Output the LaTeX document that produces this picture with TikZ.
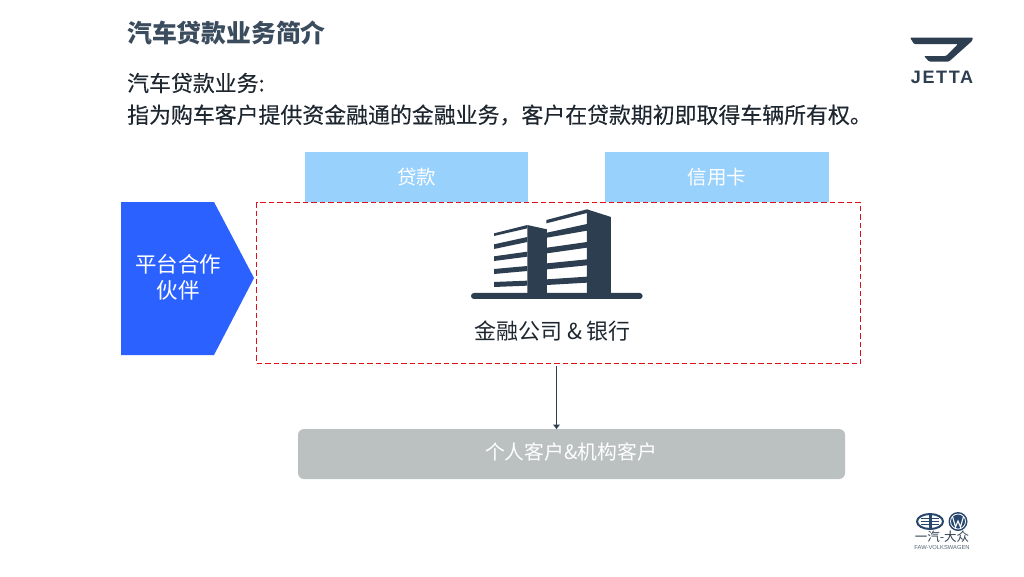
\documentclass[tikz,border=0pt]{standalone}
\usepackage{fontspec}
\usetikzlibrary{shapes.geometric}
\setmainfont{Noto Sans CJK SC}
\newfontfamily\cjkmid[FakeBold=0.25]{Noto Sans CJK SC}
\newfontfamily\latinf{Liberation Sans}
\newfontfamily\jettaf[LetterSpace=9]{Liberation Sans}
\newcommand{\fsz}[1]{\fontsize{#1pt}{#1pt}\selectfont}
\definecolor{ink}{HTML}{2C3E50}
\definecolor{headink}{HTML}{3A4C5E}
\definecolor{tabblue}{HTML}{99D1FD}
\definecolor{royal}{HTML}{2B62FF}
\definecolor{redd}{HTML}{E0101E}
\definecolor{greyb}{HTML}{BBC1C1}
\definecolor{txt}{HTML}{1E2730}
\definecolor{logoblue}{HTML}{27476F}
\tikzset{
  tabbox/.style={fill=tabblue,draw=none,minimum width=224,minimum height=50,text=white,inner sep=0pt,font=\fsz{19.5}},
  lbl/.style={inner sep=0pt,anchor=west},
}
\begin{document}
\begin{tikzpicture}[x=1pt,y=-1pt]
\useasboundingbox (0,0) rectangle (1024,576);
\fill[white] (0,0) rectangle (1024,576);
% text
\node[lbl,text=headink,font={\fsz{24.8}\bfseries}] (title) at (127,33) {汽车贷款业务简介};
\node[lbl,text=txt,font={\fsz{21.9}\cjkmid}] (l1) at (127,83) {汽车贷款业务:};
\node[lbl,text=txt,font={\fsz{21.9}\cjkmid}] (l2) at (127,115) {指为购车客户提供资金融通的金融业务，客户在贷款期初即取得车辆所有权。};
% tabs
\node[tabbox,minimum width=223] (loan) at (416.5,177) {贷款};
\node[tabbox] (card) at (717,177) {信用卡};
% partner
\fill[royal] (121,202) -- (214,202) -- (254,278) -- (214,355) -- (121,355) -- cycle;
\node[text=white,inner sep=0pt,font=\fsz{21.5}] (partner) at (178,264) {平台合作};
\node[text=white,inner sep=0pt,font=\fsz{21.5}] (partner2) at (178,290) {伙伴};
% red box
\node[draw=redd,dash pattern=on 5.5pt off 3pt,line width=1.5pt,minimum width=604,minimum height=161,inner sep=0pt] (main) at (558.5,283) {};
% building
\begin{scope}[shift={(450,200)},x=0.3333pt,y=-0.3333pt]
\fill[ink,rounded corners=3pt] (63,279) rectangle (578,297);
\fill[ink] (411,28) -- (483,51) -- (483,282) -- (411,282) -- cycle;
\fill[ink] (232,75) -- (291,88) -- (291,282) -- (232,282) -- cycle;
\fill[ink] (411,28) -- (411,39) -- (289,70) -- (289,60) -- cycle;
\fill[ink] (411,72) -- (411,92) -- (291,113) -- (291,98) -- cycle;
\fill[ink] (411,126) -- (411,143) -- (291,160) -- (291,143) -- cycle;
\fill[ink] (411,178) -- (411,196) -- (291,208) -- (291,190) -- cycle;
\fill[ink] (411,230) -- (411,248) -- (291,255) -- (291,238) -- cycle;
\fill[ink] (232,75) -- (232,85) -- (132,108) -- (132,100) -- cycle;
\fill[ink] (232,111) -- (232,126) -- (132,147) -- (132,133) -- cycle;
\fill[ink] (232,155) -- (232,170) -- (132,183) -- (132,169) -- cycle;
\fill[ink] (232,198) -- (232,213) -- (132,222) -- (132,207) -- cycle;
\fill[ink] (232,242) -- (232,257) -- (132,261) -- (132,246) -- cycle;
\end{scope}
\node[text=txt,inner sep=0pt,font=\fsz{22}] (fin) at (552.5,331) {金融公司 \& 银行};
% bottom
\node[fill=greyb,rounded corners=6pt,minimum width=547,minimum height=50,inner sep=0pt] (cust) at (571.5,454) {};
\node[text=white,inner sep=0pt,font=\fsz{19.8}] (custt) at (571,452) {个人客户\&机构客户};
\coordinate (arrtop) at (556.5,366);
\coordinate (arrbot) at (556.5,429);
\draw[ink,line width=1.5pt] (arrtop) -- (arrbot);
\fill[ink] (553,424.5) -- (560,424.5) -- (556.5,429) -- cycle;
% Jetta logo
\fill[ink,rounded corners=1pt] (910,37.5) -- (973,37.5) -- (972,41) -- (949,61.5) -- (929,61.5) -- (924,56) -- (946,56) -- (958,44) -- (914,44) -- cycle;
\node[text=ink,inner sep=0pt,font={\jettaf\fsz{18}\bfseries}] (jetta) at (942,77) {JETTA};
% FAW-VW logos
\node[draw=logoblue,line width=2pt,fill=white,ellipse,minimum width=26,minimum height=15,inner sep=0pt] (faw) at (930,521.5) {};
\fill[logoblue] (921,518) rectangle (939,519.2);
\fill[logoblue] (921,521) rectangle (939,522.2);
\fill[logoblue] (921,524) rectangle (939,525.2);
\fill[logoblue] (928.5,515) rectangle (931.5,528);
\node[circle,fill=logoblue,minimum size=19,inner sep=0pt] (vw) at (958,521.5) {};
\draw[white,line width=0.8pt] (958,521.5) circle (7.5);
\draw[white,line width=1.1pt] (952.5,516.5) -- (955.5,527) -- (958,521) -- (960.5,527) -- (963.5,516.5);
\node[text=ink,inner sep=0pt,font={\fsz{12.5}}] (fawtxt) at (942,537) {一汽-大众};
\node[text=ink!80,inner sep=0pt,font={\latinf\fsz{5.8}}] (fawen) at (942,547) {FAW-VOLKSWAGEN};
\end{tikzpicture}
\end{document}
